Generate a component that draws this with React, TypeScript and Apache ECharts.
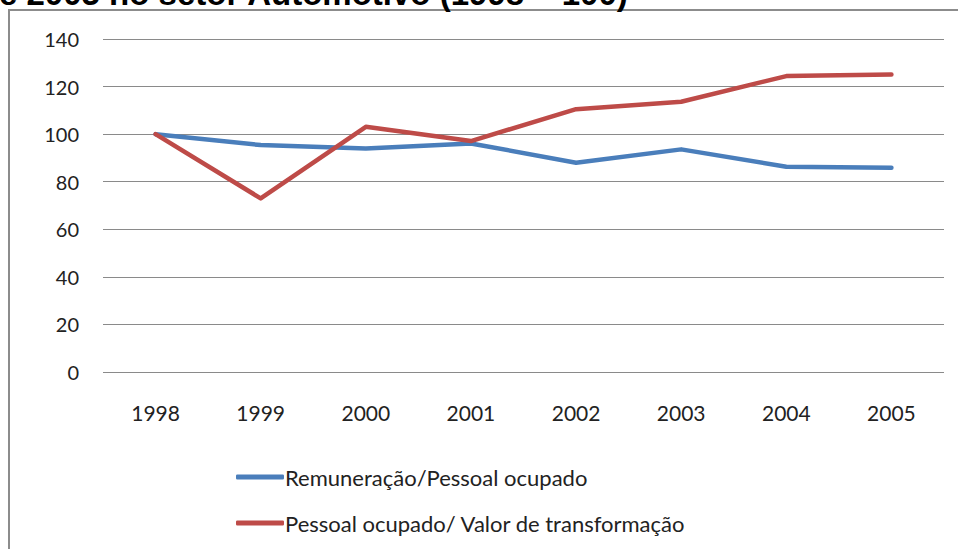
import React, { useEffect, useRef } from "react";
import * as echarts from "echarts";

const years = ["1998", "1999", "2000", "2001", "2002", "2003", "2004", "2005"];
const remuneracao = [100, 95.4, 94.0, 96.1, 88.0, 93.6, 86.3, 85.9];
const pessoalValor = [100, 73.0, 103.1, 97.1, 110.5, 113.6, 124.4, 125.1];
const seriesNames = ["Remuneração/Pessoal ocupado", "Pessoal ocupado/ Valor de transformação"];
const titleText = "e 2005 no setor Automotivo (1998 = 100)";

const FONT = "Lato, 'Noto Sans', sans-serif";

export default function App() {
  const ref = useRef<HTMLDivElement>(null);
  useEffect(() => {
    if (!ref.current) return;
    const chart = echarts.init(ref.current, null, { renderer: "svg" });
    chart.setOption({
      animation: false,
      backgroundColor: "#ffffff",
      grid: { left: 103, right: 14, top: 39, bottom: 177, containLabel: false },
      xAxis: {
        type: "category",
        data: years,
        boundaryGap: true,
        axisLine: { show: false },
        axisTick: { show: false },
        axisLabel: { margin: 30, fontSize: 21, color: "#222", fontFamily: FONT },
      },
      yAxis: {
        type: "value",
        min: 0,
        max: 140,
        interval: 20,
        axisLine: { show: false },
        axisTick: { show: false },
        axisLabel: { margin: 24, fontSize: 20, color: "#222", fontFamily: FONT },
        splitLine: { lineStyle: { color: "#8a8a8a", width: 1 } },
      },
      legend: {
        orient: "vertical",
        left: 231,
        top: 461,
        itemWidth: 48,
        itemHeight: 5,
        itemGap: 24,
        icon: "roundRect",
        textStyle: { fontSize: 22, color: "#222", fontFamily: FONT, padding: [0, 0, 0, -4] },
        data: seriesNames,
      },
      series: [
        {
          name: seriesNames[0],
          type: "line",
          data: remuneracao,
          symbol: "none",
          lineStyle: { color: "#4a7ebb", width: 4.5, cap: "round", join: "round" },
          itemStyle: { color: "#4a7ebb" },
        },
        {
          name: seriesNames[1],
          type: "line",
          data: pessoalValor,
          symbol: "none",
          lineStyle: { color: "#be4b48", width: 4.5, cap: "round", join: "round" },
          itemStyle: { color: "#be4b48" },
        },
      ],
      graphic: [
        {
          type: "rect",
          shape: { x: 9, y: 10, width: 1000, height: 600 },
          style: { fill: "none", stroke: "#8c8c8c", lineWidth: 2 },
          silent: true,
        },
        {
          type: "text",
          x: -1,
          y: -7,
          style: {
            text: titleText,
            font: "bold 33px 'Liberation Sans', Arial, sans-serif",
            fill: "#000",
            verticalAlign: "middle",
            align: "left",
          },
        },
      ],
    });
    return () => chart.dispose();
  }, []);
  return (
    <div
      ref={ref}
      style={{ position: "fixed", left: 0, top: 0, width: 958, height: 549 }}
    />
  );
}
